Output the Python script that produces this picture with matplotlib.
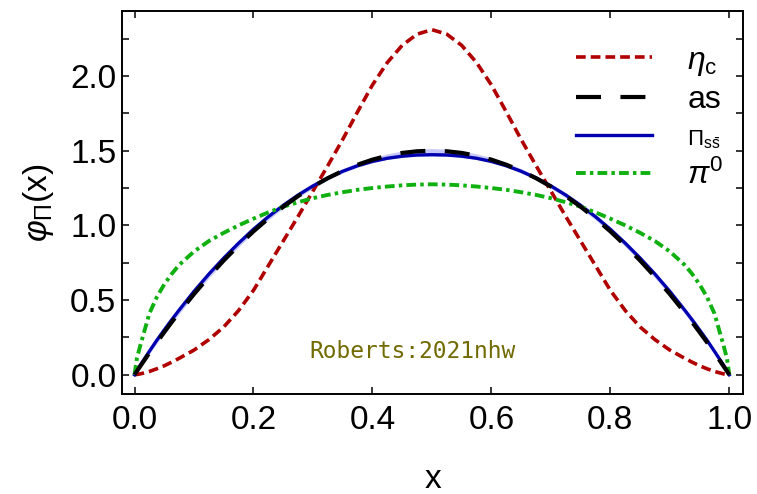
import matplotlib
matplotlib.use("Agg")
import matplotlib.pyplot as plt

# values
x = [0, 0.004, 0.01, 0.025, 0.0375, 0.05, 0.0625, 0.075, 0.1, 0.125, 0.15, 0.175, 0.2, 0.225,
     0.25, 0.275, 0.3, 0.325, 0.35, 0.375, 0.4, 0.425, 0.45, 0.475, 0.5,
     0.525, 0.55, 0.575, 0.6, 0.625, 0.65, 0.675, 0.7, 0.725, 0.75, 0.775, 0.8, 0.825,
     0.85, 0.875, 0.9, 0.925, 0.9375, 0.95, 0.9625, 0.975, 0.99, 0.996, 1]
eta_c = [0, 0.002, 0.006, 0.022, 0.04, 0.06, 0.084, 0.11, 0.165, 0.235, 0.32, 0.43, 0.565, 0.73,
         0.895, 1.06, 1.23, 1.40, 1.575, 1.76, 1.94, 2.09, 2.205, 2.28, 2.31,
         2.28, 2.205, 2.09, 1.94, 1.76, 1.575, 1.40, 1.23, 1.06, 0.895, 0.73, 0.565, 0.43,
         0.32, 0.235, 0.165, 0.11, 0.084, 0.06, 0.04, 0.022, 0.006, 0.002, 0]
asym = [0, 0.024, 0.059, 0.146, 0.217, 0.285, 0.352, 0.416, 0.54, 0.656, 0.765, 0.866, 0.96, 1.046,
        1.125, 1.196, 1.26, 1.316, 1.365, 1.406, 1.44, 1.466, 1.485, 1.496, 1.5,
        1.496, 1.485, 1.466, 1.44, 1.406, 1.365, 1.316, 1.26, 1.196, 1.125, 1.046, 0.96, 0.866,
        0.765, 0.656, 0.54, 0.416, 0.352, 0.285, 0.217, 0.146, 0.059, 0.024, 0]
pi_ss = [0, 0.027, 0.066, 0.157, 0.231, 0.30, 0.368, 0.433, 0.558, 0.674, 0.781, 0.881, 0.974, 1.058,
         1.134, 1.203, 1.264, 1.317, 1.362, 1.399, 1.428, 1.449, 1.463, 1.471, 1.473,
         1.471, 1.463, 1.449, 1.428, 1.399, 1.362, 1.317, 1.264, 1.203, 1.134, 1.058, 0.974, 0.881,
         0.781, 0.674, 0.558, 0.433, 0.368, 0.30, 0.231, 0.157, 0.066, 0.027, 0]
pi_ss_lo = [0, 0.022, 0.056, 0.142, 0.211, 0.278, 0.344, 0.408, 0.532, 0.648, 0.756, 0.857, 0.951, 1.037,
            1.115, 1.186, 1.249, 1.304, 1.351, 1.39, 1.42, 1.442, 1.456, 1.463, 1.465,
            1.463, 1.456, 1.442, 1.42, 1.39, 1.351, 1.304, 1.249, 1.186, 1.115, 1.037, 0.951, 0.857,
            0.756, 0.648, 0.532, 0.408, 0.344, 0.278, 0.211, 0.142, 0.056, 0.022, 0]
pi_ss_hi = [0, 0.029, 0.07, 0.163, 0.237, 0.308, 0.377, 0.443, 0.568, 0.685, 0.793, 0.894, 0.987, 1.072,
            1.148, 1.217, 1.279, 1.333, 1.38, 1.42, 1.453, 1.479, 1.498, 1.51, 1.514,
            1.51, 1.498, 1.479, 1.453, 1.42, 1.38, 1.333, 1.279, 1.217, 1.148, 1.072, 0.987, 0.894,
            0.793, 0.685, 0.568, 0.443, 0.377, 0.308, 0.237, 0.163, 0.07, 0.029, 0]
pi0 = [0, 0.11, 0.2, 0.41, 0.52, 0.605, 0.675, 0.735, 0.825, 0.895, 0.95, 1.0, 1.045, 1.087,
       1.125, 1.155, 1.182, 1.204, 1.222, 1.238, 1.25, 1.26, 1.268, 1.273, 1.275,
       1.273, 1.268, 1.26, 1.25, 1.238, 1.222, 1.204, 1.182, 1.155, 1.125, 1.087, 1.045, 1.0,
       0.95, 0.895, 0.825, 0.735, 0.675, 0.605, 0.52, 0.41, 0.2, 0.11, 0]

plt.rcParams["font.family"] = ["Liberation Sans", "DejaVu Sans"]
plt.rcParams["mathtext.fontset"] = "custom"
plt.rcParams["mathtext.rm"] = "Liberation Sans"
plt.rcParams["mathtext.it"] = "Liberation Sans:italic"
plt.rcParams["lines.scale_dashes"] = False

fig = plt.figure(figsize=(7.57, 4.94), dpi=100)
ax = fig.add_axes([0.1612, 0.2024, 0.8203, 0.7753])

ax.fill_between(x, pi_ss_lo, pi_ss_hi, color="#c8c8f8", lw=0, zorder=1)
ax.plot(x, eta_c, color="#b00000", lw=2.6, ls=(0, (7, 3.6)), label=r"$\eta_{\rm c}$", zorder=3)
ax.plot(x, asym, color="black", lw=3.0, ls=(0, (18, 14)), label="as", zorder=4)
ax.plot(x, pi_ss, color="#0000b0", lw=2.4, label=r"$\Pi_{\rm s\bar{s}}$", zorder=3)
ax.plot(x, pi0, color="#10b010", lw=2.8, ls=(0, (7, 3, 2.5, 3)), label=r"$\pi^0$", zorder=3)

ax.text(0.467, 0.154, "Roberts:2021nhw", family="DejaVu Sans Mono", fontsize=16.5,
        color="#706a00", ha="center", va="center")

ax.set_xlim(-0.021, 1.023)
ax.set_ylim(-0.129, 2.435)
ax.set_xticks([0, 0.2, 0.4, 0.6, 0.8, 1.0])
ax.set_xticklabels(["0.0", "0.2", "0.4", "0.6", "0.8", "1.0"])
ax.set_yticks([0, 0.5, 1.0, 1.5, 2.0])
ax.set_yticklabels(["0.0", "0.5", "1.0", "1.5", "2.0"])
ax.set_yticks([0.25, 0.75, 1.25, 1.75, 2.25], minor=True)
ax.tick_params(which="both", direction="in", top=True, right=True, length=5, width=1.1,
               labelsize=24)
ax.tick_params(axis="x", pad=8)
ax.tick_params(axis="y", pad=4)
for sp in ax.spines.values():
    sp.set_linewidth(1.4)

ax.set_xlabel("x", fontsize=24, labelpad=20)
ax.set_ylabel(r"$\varphi_{\Pi}$(x)", fontsize=24, labelpad=10)

leg = ax.legend(loc="upper right", bbox_to_anchor=(1.0, 0.96), frameon=False, fontsize=23,
                handlelength=2.4, handletextpad=1.1, labelspacing=0.25, borderaxespad=0.2)
leg.get_texts()[2].set_fontsize(16)

fig.savefig("out.png", dpi=100)
